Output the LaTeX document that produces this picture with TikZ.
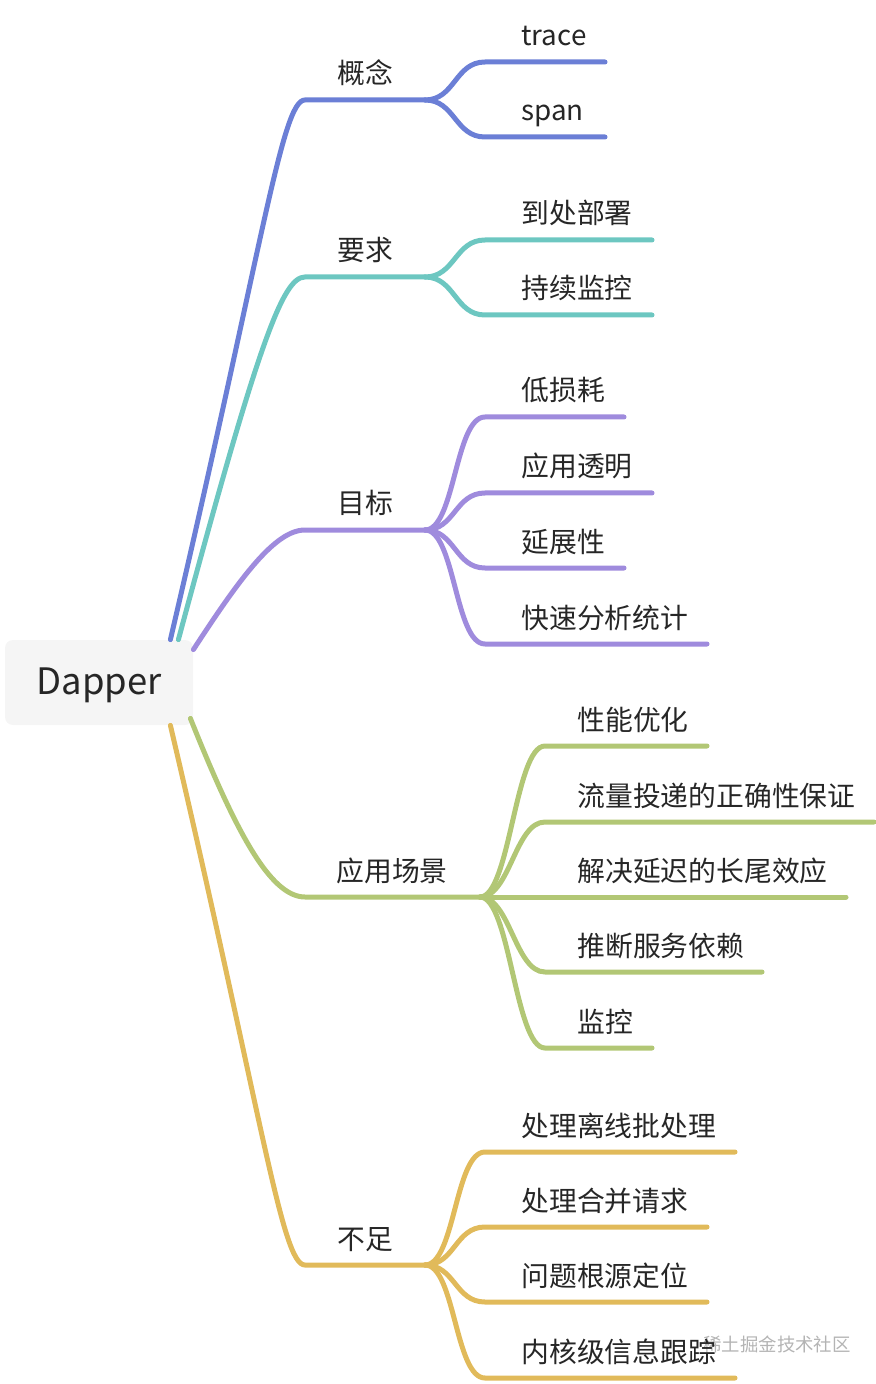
\documentclass[tikz,border=0pt]{standalone}
\usepackage{fontspec}
\setmainfont{Noto Sans CJK SC}
\usetikzlibrary{calc}

\definecolor{cBlue}{HTML}{6B7FD6}
\definecolor{cTeal}{HTML}{6DC7C1}
\definecolor{cPurple}{HTML}{9F8BDD}
\definecolor{cGreen}{HTML}{B2C775}
\definecolor{cYellow}{HTML}{E1BA5A}
\definecolor{rootgray}{HTML}{F5F5F5}
\definecolor{txt}{HTML}{262626}
\definecolor{wmgray}{HTML}{B4B4B4}

\begin{document}
\begin{tikzpicture}[x=0.5pt,y=-0.5pt,
    branch/.style={line width=2.5pt,line cap=round},
    fork/.style={out=0,in=180,distance=15pt},
    rootbox/.style={fill=rootgray,rounded corners=4pt,minimum width=94pt,minimum height=42.5pt,
        text height=13pt,text depth=1.5pt,inner sep=0pt,text=txt,font=\fontsize{18.2pt}{22pt}\selectfont},
    topic/.style={font=\fontsize{13.9pt}{16pt}\selectfont,text=txt,inner sep=0pt,anchor=base},
    leaf/.style={topic,anchor=base west},
    wmtext/.style={font=\fontsize{9.2pt}{11pt}\selectfont,text=wmgray,inner sep=0pt,anchor=base west}
]
\useasboundingbox (0,0) rectangle (876,1384);

\node[rootbox] (dapper) at (99,682.5) {Dapper};

% first level
\coordinate (gainian-l) at (305,100);  \coordinate (gainian-r) at (425,100);
\coordinate (yaoqiu-l) at (305,277);   \coordinate (yaoqiu-r) at (425,277);
\coordinate (mubiao-l) at (305,530);   \coordinate (mubiao-r) at (425,530);
\coordinate (changjing-l) at (305,897); \coordinate (changjing-r) at (480,897);
\coordinate (buzu-l) at (305,1265);    \coordinate (buzu-r) at (425,1265);

\node[topic] (gainian) at (365,84) {概念};
\node[topic] (yaoqiu) at (365,261) {要求};
\node[topic] (mubiao) at (365,514) {目标};
\node[topic] (changjing) at (392,881) {应用场景};
\node[topic] (buzu) at (365,1249) {不足};

\draw[branch,cBlue] ($(dapper.north east)+(-23,0)$) .. controls (264,240) and (282,100) .. (gainian-l) -- (gainian-r);
\draw[branch,cTeal] ($(dapper.north east)+(-15,0)$) .. controls (259,340) and (283,277) .. (yaoqiu-l) -- (yaoqiu-r);
\draw[branch,cPurple] ($(dapper.north east)+(0,10)$) .. controls (240,578) and (275,530) .. (mubiao-l) -- (mubiao-r);
\draw[branch,cGreen] ($(dapper.south east)+(-3,-7)$) .. controls (235,830) and (270,897) .. (changjing-l) -- (changjing-r);
\draw[branch,cYellow] ($(dapper.south east)+(-23,0)$) .. controls (264,1125) and (282,1265) .. (buzu-l) -- (buzu-r);

% 概念
\coordinate (trace-l) at (485,62);  \coordinate (trace-r) at (605,62);
\coordinate (span-l) at (485,137);  \coordinate (span-r) at (605,137);
\node[leaf] (trace) at (521,46) {trace};
\node[leaf] (span) at (521,121) {span};
\draw[branch,cBlue] (gainian-r) to[fork] (trace-l) -- (trace-r);
\draw[branch,cBlue] (gainian-r) to[fork] (span-l) -- (span-r);

% 要求
\coordinate (bushu-l) at (485,240);  \coordinate (bushu-r) at (652,240);
\coordinate (jiankong-l) at (485,315); \coordinate (jiankong-r) at (652,315);
\node[leaf] (bushu) at (521,224) {到处部署};
\node[leaf] (jiankong) at (521,299) {持续监控};
\draw[branch,cTeal] (yaoqiu-r) to[fork] (bushu-l) -- (bushu-r);
\draw[branch,cTeal] (yaoqiu-r) to[fork] (jiankong-l) -- (jiankong-r);

% 目标
\coordinate (sunhao-l) at (485,417);  \coordinate (sunhao-r) at (624,417);
\coordinate (touming-l) at (485,493); \coordinate (touming-r) at (652,493);
\coordinate (yanzhan-l) at (485,568); \coordinate (yanzhan-r) at (624,568);
\coordinate (fenxi-l) at (485,644);   \coordinate (fenxi-r) at (707,644);
\node[leaf] (sunhao) at (521,401) {低损耗};
\node[leaf] (touming) at (521,477) {应用透明};
\node[leaf] (yanzhan) at (521,552) {延展性};
\node[leaf] (fenxi) at (521,628) {快速分析统计};
\draw[branch,cPurple] (mubiao-r) to[fork] (sunhao-l) -- (sunhao-r);
\draw[branch,cPurple] (mubiao-r) to[fork] (touming-l) -- (touming-r);
\draw[branch,cPurple] (mubiao-r) to[fork] (yanzhan-l) -- (yanzhan-r);
\draw[branch,cPurple] (mubiao-r) to[fork] (fenxi-l) -- (fenxi-r);

% 应用场景
\coordinate (youhua-l) at (545,746);  \coordinate (youhua-r) at (707,746);
\coordinate (liuliang-l) at (545,822); \coordinate (liuliang-r) at (874,822);
\coordinate (changwei-l) at (545,897); \coordinate (changwei-r) at (846,897);
\coordinate (yilai-l) at (545,972);   \coordinate (yilai-r) at (762,972);
\coordinate (jk-l) at (545,1048);     \coordinate (jk-r) at (652,1048);
\node[leaf] (youhua) at (577,730) {性能优化};
\node[leaf] (liuliang) at (577,806) {流量投递的正确性保证};
\node[leaf] (changwei) at (577,881) {解决延迟的长尾效应};
\node[leaf] (yilai) at (577,956) {推断服务依赖};
\node[leaf] (jk) at (577,1032) {监控};
\draw[branch,cGreen] (changjing-r) to[fork] (youhua-l) -- (youhua-r);
\draw[branch,cGreen] (changjing-r) to[fork] (liuliang-l) -- (liuliang-r);
\draw[branch,cGreen] (changjing-r) -- (changwei-l) -- (changwei-r);
\draw[branch,cGreen] (changjing-r) to[fork] (yilai-l) -- (yilai-r);
\draw[branch,cGreen] (changjing-r) to[fork] (jk-l) -- (jk-r);

% 不足
\coordinate (lixian-l) at (485,1152); \coordinate (lixian-r) at (735,1152);
\coordinate (hebing-l) at (485,1227); \coordinate (hebing-r) at (707,1227);
\coordinate (genyuan-l) at (485,1302); \coordinate (genyuan-r) at (707,1302);
\coordinate (neihe-l) at (485,1378);  \coordinate (neihe-r) at (735,1378);
\node[wmtext] (wm) at (703,1351) {稀土掘金技术社区};
\node[leaf] (lixian) at (521,1136) {处理离线批处理};
\node[leaf] (hebing) at (521,1211) {处理合并请求};
\node[leaf] (genyuan) at (521,1286) {问题根源定位};
\node[leaf] (neihe) at (521,1362) {内核级信息跟踪};
\draw[branch,cYellow] (buzu-r) to[fork] (lixian-l) -- (lixian-r);
\draw[branch,cYellow] (buzu-r) to[fork] (hebing-l) -- (hebing-r);
\draw[branch,cYellow] (buzu-r) to[fork] (genyuan-l) -- (genyuan-r);
\draw[branch,cYellow] (buzu-r) to[fork] (neihe-l) -- (neihe-r);
\end{tikzpicture}
\end{document}
